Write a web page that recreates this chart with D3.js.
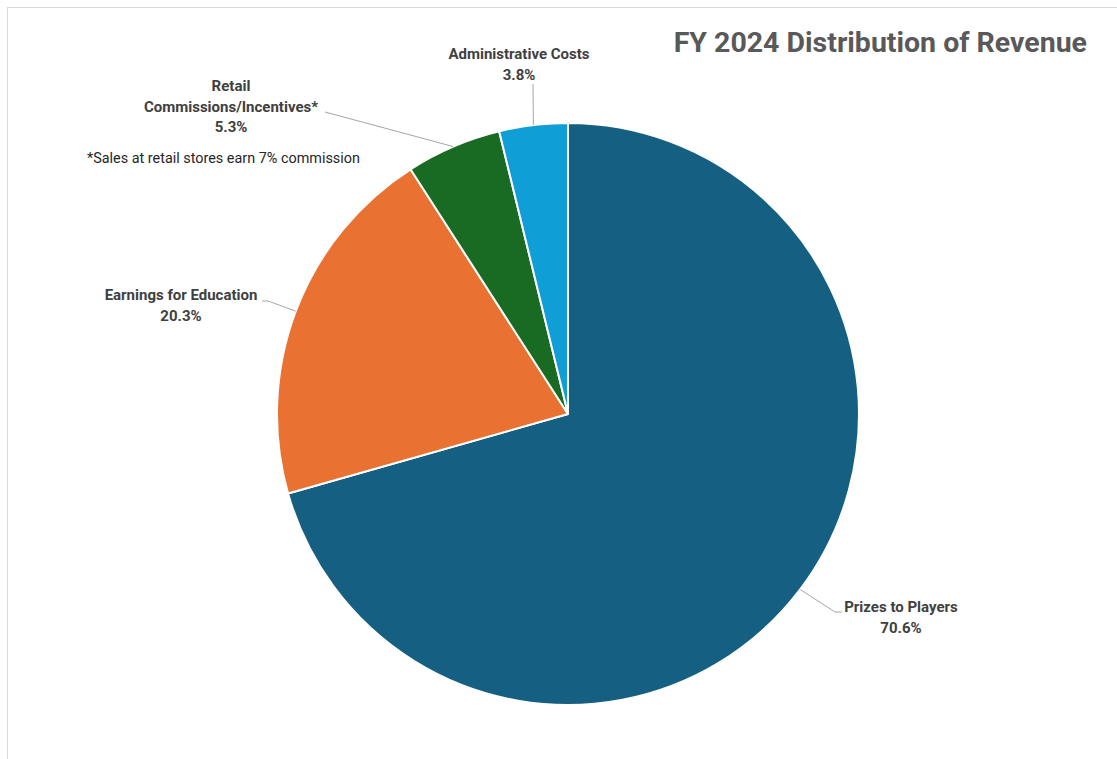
<!DOCTYPE html>
<html>
<head>
<meta charset="utf-8">
<script src="https://cdn.jsdelivr.net/npm/d3@7"></script>
<style>
  html, body { margin: 0; padding: 0; background: #ffffff; }
  svg { display: block; }
  text { font-family: Roboto, "Noto Sans", sans-serif; }
</style>
</head>
<body>
<svg id="chart" width="1117" height="759"></svg>
<script>
// Revenue shares, FY 2024 (percent), drawn clockwise from 12 o'clock
const categories = ["Prizes to Players", "Earnings for Education", "Retail Commissions/Incentives*", "Administrative Costs"];
const shares = [70.6, 20.3, 5.3, 3.8];
const labelLines = [
  ["Prizes to Players"],
  ["Earnings for Education"],
  ["Retail", "Commissions/Incentives*"],
  ["Administrative Costs"]
];
const colors = ["#156082", "#E97132", "#196B24", "#0F9ED5"];
const titleText = "FY 2024 Distribution of Revenue";
const footnoteText = "*Sales at retail stores earn 7% commission";

// Layout: label block centre / first baseline and leader-line start + elbow
const labelLayout = [
  { cx: 901, y: 612, start: [842, 612], elbow: [835, 612] },
  { cx: 181, y: 300, start: [262, 301], elbow: [268, 301] },
  { cx: 231, y: 91,  start: [325, 112], elbow: null },
  { cx: 519, y: 59,  start: [533, 84],  elbow: null }
];

const W = 1117, H = 759;
const cx = 568, cy = 414, R = 291;
const lineGap = 20.5;

const svg = d3.select("#chart");

// Chart area frame
svg.append("rect")
  .attr("x", 7.5).attr("y", 7.5)
  .attr("width", W + 20).attr("height", H + 20)
  .attr("fill", "#ffffff")
  .attr("stroke", "#d9d9d9")
  .attr("stroke-width", 1);

const data = categories.map((c, i) => ({ name: c, value: shares[i], color: colors[i], lines: labelLines[i], layout: labelLayout[i] }));

const pie = d3.pie().value(d => d.value).sort(null);
const arcs = pie(data);
const arc = d3.arc().innerRadius(0).outerRadius(R);

const g = svg.append("g").attr("transform", `translate(${cx},${cy})`);

g.selectAll("path.slice")
  .data(arcs)
  .join("path")
  .attr("class", "slice")
  .attr("d", arc)
  .attr("fill", d => d.data.color)
  .attr("stroke", "#ffffff")
  .attr("stroke-width", 2)
  .attr("stroke-linejoin", "round");

// Leader lines: label -> slice edge at mid-angle
arcs.forEach(a => {
  const mid = (a.startAngle + a.endAngle) / 2;
  const px = cx + R * Math.sin(mid);
  const py = cy - R * Math.cos(mid);
  const L = a.data.layout;
  const pts = [L.start];
  if (L.elbow) pts.push(L.elbow);
  pts.push([px, py]);
  svg.append("path")
    .attr("d", d3.line()(pts))
    .attr("fill", "none")
    .attr("stroke", "#a6a6a6")
    .attr("stroke-width", 1);
});

// Data labels: name lines + percentage
arcs.forEach(a => {
  const L = a.data.layout;
  const lines = a.data.lines.concat([d3.format(".1f")(a.data.value) + "%"]);
  lines.forEach((t, k) => {
    svg.append("text")
      .attr("x", L.cx)
      .attr("y", L.y + k * lineGap)
      .attr("text-anchor", "middle")
      .attr("font-size", 15)
      .attr("font-weight", 700)
      .attr("fill", "#404040")
      .text(t);
  });
});

// Footnote
svg.append("text")
  .attr("x", 87).attr("y", 163)
  .attr("font-size", 14.4)
  .attr("fill", "#262626")
  .text(footnoteText);

// Title
svg.append("text")
  .attr("x", 1087).attr("y", 52)
  .attr("text-anchor", "end")
  .attr("font-size", 28.5)
  .attr("font-weight", 700)
  .attr("fill", "#595959")
  .text(titleText);
</script>
</body>
</html>
